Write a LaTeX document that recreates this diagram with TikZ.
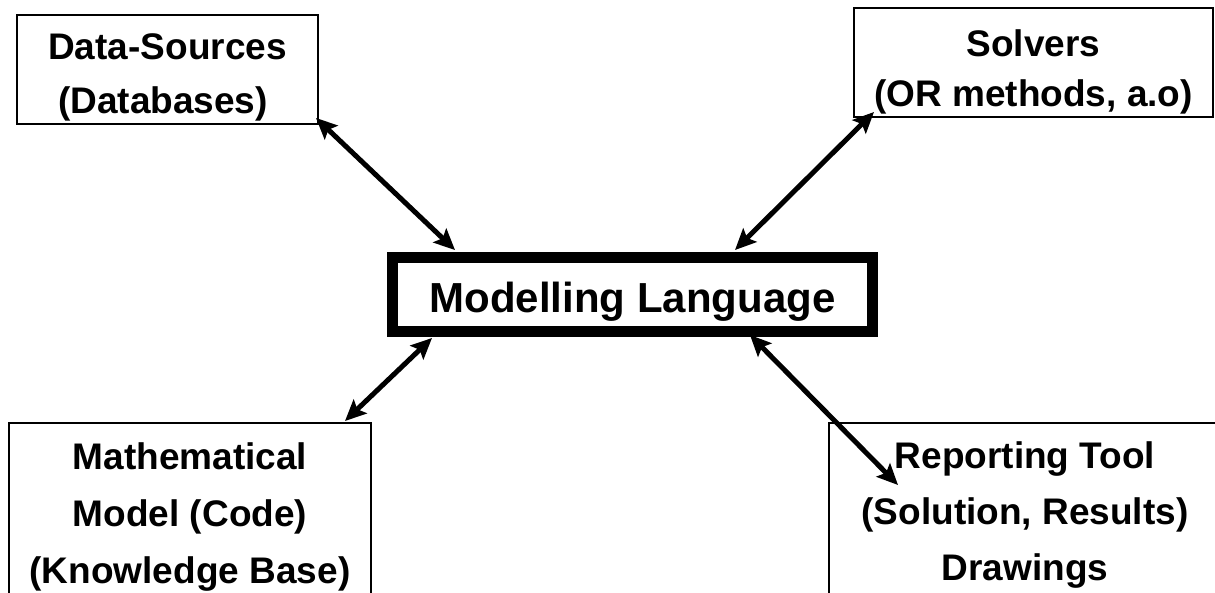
\documentclass[tikz,border=0pt]{standalone}
\usepackage{fontspec}
\setmainfont{Liberation Sans}
\usetikzlibrary{arrows.meta,calc}
\begin{document}
\begin{tikzpicture}[x=1pt,y=-1pt,
  box/.style={draw, line width=1.4pt, rectangle, inner sep=0pt, outer sep=0pt, align=center},
  mainbox/.style={draw, line width=11pt, rectangle, inner sep=0pt, outer sep=0pt,
    font=\fontsize{42}{50}\selectfont\bfseries, text height=40pt, text depth=5pt},
  link/.style={line width=5pt,
    {Stealth[length=21pt,width=19pt,inset=4pt]}-{Stealth[length=21pt,width=19pt,inset=4pt]}}
]
\useasboundingbox (0,0) rectangle (1215,592);
\node[box, minimum width=301pt, minimum height=109pt, font=\fontsize{37}{54}\selectfont\bfseries]
  (ds) at (167.5,69.5) {\rule{0pt}{41pt}Data-Sources\\(Databases)\kern9pt};
\node[box, minimum width=359pt, minimum height=109pt, font=\fontsize{37}{50}\selectfont\bfseries]
  (sol) at (1033.5,62.5) {\rule{0pt}{46pt}Solvers\\(OR methods, a.o)};
\node[box, minimum width=362pt, minimum height=188pt, font=\fontsize{37}{57}\selectfont\bfseries]
  (mm) at (190,517) {Mathematical\\Model (Code)\\(Knowledge Base)};
\node[box, minimum width=392pt, minimum height=188pt, font=\fontsize{37}{56}\selectfont\bfseries]
  (rep) at (1025,517) {Reporting Tool\\(Solution, Results)\\Drawings\rule[-11pt]{0pt}{1pt}};
\node[mainbox, minimum width=480pt, minimum height=74pt] (ml) at (632.5,294.5) {Modelling Language};
\draw[link] ($(ds.south east)+(-2,-6)$) -- ($(ml.north west)+(62.5,-7.5)$);
\draw[link] ($(sol.south west)+(20,-5)$) -- ($(ml.north east)+(-137.5,-7.5)$);
\draw[link] ($(ml.south west)+(39.5,6.5)$) -- ($(mm.north east)+(-26,-2)$);
\draw[link] ($(ml.south east)+(-122.5,3.5)$) -- ($(rep.north west)+(69,62)$);
\end{tikzpicture}
\end{document}
